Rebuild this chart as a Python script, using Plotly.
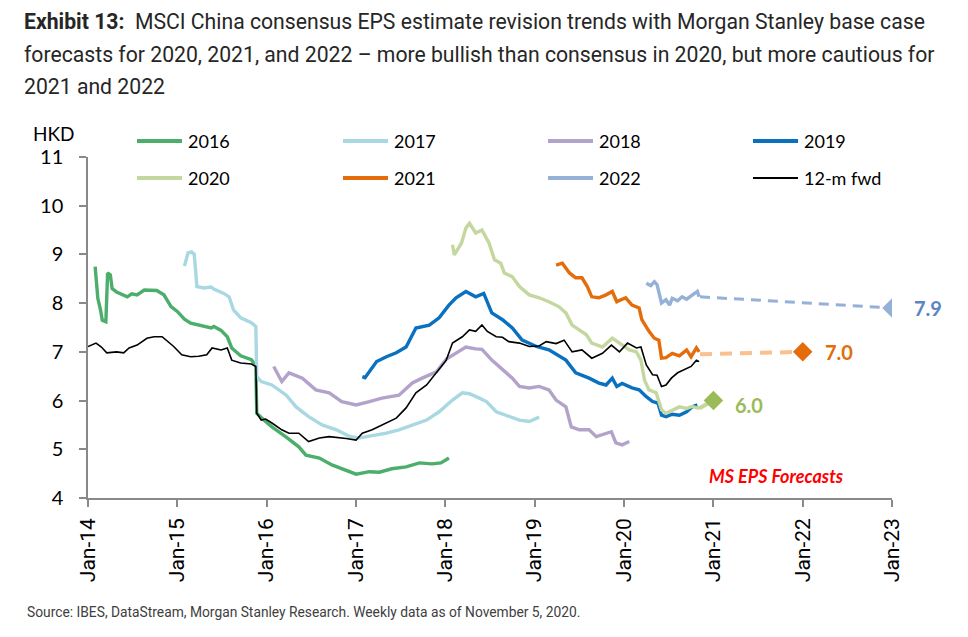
import numpy as np
import pandas as pd
import plotly.graph_objects as go

# ---------------- data (decimal years, HKD EPS) ----------------
t_2016 = [2014.08, 2014.11, 2014.14, 2014.16, 2014.20, 2014.22, 2014.25, 2014.27, 2014.32, 2014.44,
          2014.49, 2014.55, 2014.63, 2014.77, 2014.85, 2014.93, 2015.00, 2015.08, 2015.15, 2015.27,
          2015.38, 2015.41, 2015.49, 2015.56, 2015.61, 2015.71, 2015.83, 2015.88, 2015.89, 2015.97,
          2016.06, 2016.22, 2016.36, 2016.44, 2016.59, 2016.73, 2016.89, 2017.00, 2017.15, 2017.26,
          2017.40, 2017.56, 2017.71, 2017.85, 2017.95, 2018.04]
v_2016 = [8.75, 8.10, 7.86, 7.65, 7.62, 8.62, 8.58, 8.30, 8.23, 8.13,
          8.19, 8.17, 8.27, 8.26, 8.17, 7.93, 7.83, 7.67, 7.59, 7.54,
          7.49, 7.52, 7.44, 7.31, 7.08, 6.92, 6.84, 6.71, 5.74, 5.60,
          5.46, 5.25, 5.05, 4.88, 4.82, 4.68, 4.57, 4.49, 4.54, 4.53,
          4.60, 4.64, 4.72, 4.70, 4.72, 4.82]

t_2017 = [2015.08, 2015.12, 2015.16, 2015.19, 2015.22, 2015.30, 2015.38, 2015.41, 2015.52, 2015.58,
          2015.63, 2015.71, 2015.83, 2015.88, 2015.89, 2015.94, 2016.06, 2016.22, 2016.33, 2016.47,
          2016.62, 2016.78, 2016.92, 2017.03, 2017.15, 2017.34, 2017.48, 2017.63, 2017.79, 2017.93,
          2018.08, 2018.19, 2018.27, 2018.38, 2018.46, 2018.57, 2018.71, 2018.83, 2018.94, 2019.05]
v_2017 = [8.76, 9.03, 9.05, 9.00, 8.34, 8.31, 8.33, 8.29, 8.20, 8.13,
          7.86, 7.70, 7.60, 7.52, 6.49, 6.39, 6.32, 6.11, 5.87, 5.67,
          5.50, 5.40, 5.27, 5.23, 5.27, 5.33, 5.40, 5.50, 5.60, 5.77,
          6.01, 6.16, 6.14, 6.05, 5.98, 5.77, 5.67, 5.60, 5.57, 5.66]

t_2018 = [2016.08, 2016.12, 2016.17, 2016.25, 2016.40, 2016.55, 2016.70, 2016.84, 2017.00, 2017.15,
          2017.29, 2017.48, 2017.63, 2017.74, 2017.90, 2018.01, 2018.15, 2018.23, 2018.34, 2018.41,
          2018.52, 2018.64, 2018.75, 2018.83, 2018.94, 2019.05, 2019.16, 2019.24, 2019.35, 2019.41,
          2019.50, 2019.61, 2019.69, 2019.86, 2019.91, 2019.98, 2020.06]
v_2018 = [6.70, 6.57, 6.39, 6.57, 6.46, 6.22, 6.16, 5.98, 5.91, 5.98,
          6.05, 6.11, 6.36, 6.46, 6.59, 6.85, 7.00, 7.10, 7.06, 7.05,
          6.83, 6.63, 6.46, 6.29, 6.26, 6.29, 6.22, 6.01, 5.87, 5.46,
          5.40, 5.40, 5.26, 5.36, 5.13, 5.09, 5.16]

t_2019 = [2017.07, 2017.10, 2017.23, 2017.34, 2017.45, 2017.56, 2017.67, 2017.82, 2017.93, 2018.04,
          2018.12, 2018.23, 2018.34, 2018.43, 2018.52, 2018.64, 2018.75, 2018.86, 2019.02, 2019.16,
          2019.35, 2019.46, 2019.61, 2019.72, 2019.80, 2019.87, 2019.92, 2019.98, 2020.09, 2020.17,
          2020.25, 2020.32, 2020.38, 2020.42, 2020.47, 2020.54, 2020.62, 2020.70, 2020.76, 2020.82]
v_2019 = [6.49, 6.47, 6.80, 6.90, 6.98, 7.10, 7.49, 7.55, 7.70, 7.96,
          8.11, 8.24, 8.13, 8.20, 7.80, 7.66, 7.49, 7.24, 7.11, 7.04,
          6.83, 6.57, 6.46, 6.36, 6.32, 6.46, 6.29, 6.35, 6.26, 6.22,
          6.08, 5.98, 5.95, 5.70, 5.67, 5.72, 5.70, 5.77, 5.87, 5.91]

t_2020 = [2018.08, 2018.10, 2018.18, 2018.23, 2018.27, 2018.34, 2018.41, 2018.49, 2018.55, 2018.62,
          2018.66, 2018.75, 2018.83, 2018.94, 2019.05, 2019.16, 2019.27, 2019.35, 2019.42, 2019.50,
          2019.58, 2019.64, 2019.76, 2019.87, 2019.95, 2020.06, 2020.14, 2020.19, 2020.23, 2020.28,
          2020.36, 2020.42, 2020.47, 2020.54, 2020.62, 2020.70, 2020.76, 2020.84]
v_2020 = [9.20, 8.99, 9.23, 9.54, 9.64, 9.44, 9.50, 9.23, 8.89, 8.82,
          8.62, 8.54, 8.34, 8.17, 8.11, 8.03, 7.93, 7.80, 7.55, 7.45,
          7.35, 7.18, 7.10, 7.28, 7.18, 7.04, 7.00, 6.83, 6.42, 6.22,
          6.16, 5.81, 5.74, 5.80, 5.87, 5.84, 5.88, 5.84]

t_2021 = [2019.24, 2019.31, 2019.39, 2019.46, 2019.53, 2019.59, 2019.64, 2019.72, 2019.80, 2019.87,
          2019.92, 2020.02, 2020.09, 2020.17, 2020.20, 2020.28, 2020.34, 2020.39, 2020.42, 2020.47,
          2020.54, 2020.62, 2020.70, 2020.75, 2020.81, 2020.84]
v_2021 = [8.78, 8.82, 8.62, 8.52, 8.52, 8.34, 8.13, 8.11, 8.17, 8.24,
          8.03, 8.11, 7.96, 7.90, 7.66, 7.42, 7.28, 7.24, 6.87, 6.88,
          6.97, 6.92, 7.04, 6.90, 7.08, 7.00]

t_2022 = [2020.25, 2020.30, 2020.34, 2020.37, 2020.42, 2020.47, 2020.51, 2020.54, 2020.60, 2020.65,
          2020.70, 2020.79, 2020.82, 2020.84]
v_2022 = [8.41, 8.36, 8.44, 8.38, 8.00, 8.07, 7.96, 8.10, 8.05, 8.13,
          8.08, 8.20, 8.24, 8.13]

t_fwd = [2014.00, 2014.09, 2014.15, 2014.21, 2014.32, 2014.40, 2014.46, 2014.55, 2014.66, 2014.74,
         2014.83, 2014.91, 2014.96, 2015.05, 2015.15, 2015.24, 2015.33, 2015.39, 2015.49, 2015.56,
         2015.61, 2015.71, 2015.83, 2015.88, 2015.89, 2015.94, 2015.99, 2016.06, 2016.17, 2016.25,
         2016.36, 2016.47, 2016.59, 2016.70, 2016.81, 2016.89, 2017.00, 2017.07, 2017.18, 2017.29,
         2017.45, 2017.56, 2017.67, 2017.79, 2017.90, 2018.01, 2018.08, 2018.19, 2018.27, 2018.34,
         2018.41, 2018.47, 2018.57, 2018.64, 2018.71, 2018.83, 2018.94, 2019.05, 2019.13, 2019.24,
         2019.33, 2019.42, 2019.53, 2019.64, 2019.76, 2019.86, 2019.95, 2020.04, 2020.14, 2020.19,
         2020.25, 2020.32, 2020.37, 2020.42, 2020.47, 2020.53, 2020.60, 2020.67, 2020.75, 2020.81,
         2020.84]
v_fwd = [7.11, 7.18, 7.10, 6.98, 7.00, 6.98, 7.08, 7.14, 7.28, 7.31,
         7.31, 7.18, 7.11, 6.94, 6.90, 6.91, 6.94, 7.08, 7.04, 7.08,
         6.83, 6.77, 6.75, 6.70, 5.74, 5.60, 5.62, 5.54, 5.40, 5.33,
         5.33, 5.16, 5.23, 5.26, 5.24, 5.22, 5.19, 5.33, 5.40, 5.50,
         5.64, 5.85, 6.16, 6.32, 6.57, 6.83, 7.18, 7.31, 7.45, 7.42,
         7.55, 7.42, 7.31, 7.30, 7.21, 7.18, 7.11, 7.12, 7.21, 7.17,
         7.24, 7.00, 7.04, 6.87, 6.97, 7.14, 7.00, 7.18, 7.08, 7.10,
         6.73, 6.53, 6.52, 6.29, 6.32, 6.46, 6.57, 6.63, 6.70, 6.83,
         6.80]

# MS base case forecasts
fc_2020_t = [2020.84, 2021.00]
fc_2020_v = [5.84, 6.00]
fc_2021_t = [2020.85, 2022.00]
fc_2021_v = [6.95, 7.00]
fc_2022_t = [2020.85, 2023.00]
fc_2022_v = [8.13, 7.90]

series_names = ["2016", "2017", "2018", "2019", "2020", "2021", "2022", "12-m fwd"]
series_colors = ["#4BAE6B", "#A8D8E2", "#B3A2C9", "#0A70C0", "#C4D79E", "#E46C0A", "#95B1D8", "#000000"]
series_widths = [3.4, 3.4, 3.4, 3.4, 3.4, 3.4, 3.4, 1.6]
series_t = [t_2016, t_2017, t_2018, t_2019, t_2020, t_2021, t_2022, t_fwd]
series_v = [v_2016, v_2017, v_2018, v_2019, v_2020, v_2021, v_2022, v_fwd]

title_lines = [
    "<b>Exhibit 13:</b>  MSCI China consensus EPS estimate revision trends with Morgan Stanley base case",
    "forecasts for 2020, 2021, and 2022 \u2013 more bullish than consensus in 2020, but more cautious for",
    "2021 and 2022",
]
source_text = "Source: IBES, DataStream, Morgan Stanley Research. Weekly data as of November 5, 2020."


def to_dates(ts):
    out = []
    for y in ts:
        yr = int(np.floor(y + 1e-9))
        frac = y - yr
        s = pd.Timestamp(year=yr, month=1, day=1)
        e = pd.Timestamp(year=yr + 1, month=1, day=1)
        out.append(s + (e - s) * frac)
    return out


# ---------------- figure ----------------
W, H = 968, 637
L, R, T, B = 88, 76, 157, 139
PW, PH = W - L - R, H - T - B


def px(x):
    return (x - L) / PW


def py(y):
    return (H - B - y) / PH


fig = go.Figure()

for name, col, wd, ts, vs in zip(series_names, series_colors, series_widths, series_t, series_v):
    fig.add_trace(go.Scatter(x=to_dates(ts), y=vs, mode="lines", name=name,
                             line=dict(color=col, width=wd), showlegend=False))

# forecast connectors
fig.add_trace(go.Scatter(x=to_dates(fc_2022_t), y=fc_2022_v, mode="lines",
                         line=dict(color="#95B1D8", width=3, dash="10px,7px"), showlegend=False))
fig.add_trace(go.Scatter(x=to_dates(fc_2021_t), y=fc_2021_v, mode="lines",
                         line=dict(color="#FAC090", width=4, dash="12px,8px"), showlegend=False))
fig.add_trace(go.Scatter(x=to_dates(fc_2020_t), y=fc_2020_v, mode="lines",
                         line=dict(color="#C4D79E", width=4), showlegend=False))

# diamonds
diamond_cols = ["#9BBB59", "#E46C0A", "#95B1D8"]
label_cols = ["#9BBB59", "#E46C0A", "#5B84C4"]
for fc_t, fc_v, dc, lc in zip([fc_2020_t, fc_2021_t, fc_2022_t], [fc_2020_v, fc_2021_v, fc_2022_v],
                              diamond_cols, label_cols):
    d = to_dates(fc_t[-1:])
    fig.add_trace(go.Scatter(x=d, y=fc_v[-1:], mode="markers",
                             marker=dict(symbol="diamond", size=15, color=dc), showlegend=False))
    fig.add_annotation(x=d[0], y=fc_v[-1], text=f"<b>{fc_v[-1]:.1f}</b>", showarrow=False,
                       xanchor="left", xshift=20, yshift=-4 if fc_t[-1] == 2021.0 else 0,
                       font=dict(family="Lato", size=20, color=lc))

# manual legend (4 columns x 2 rows)
col_x = [137, 343, 548, 753]
row_y = [141, 178]
for i, (name, col, wd) in enumerate(zip(series_names, series_colors, series_widths)):
    cx = col_x[i % 4]
    ry = row_y[i // 4]
    fig.add_shape(type="line", xref="paper", yref="paper",
                  x0=px(cx), x1=px(cx + 45), y0=py(ry), y1=py(ry),
                  line=dict(color=col, width=4 if wd > 2 else 2))
    fig.add_annotation(xref="paper", yref="paper", x=px(cx + 49), y=py(ry), text=name,
                       showarrow=False, xanchor="left", yanchor="middle",
                       font=dict(family="Lato", size=18, color="#000000"))

# titles
for i, line in enumerate(title_lines):
    fig.add_annotation(xref="paper", yref="paper", x=px(22), y=py(22 + 32.5 * i), text=line,
                       showarrow=False, xanchor="left", yanchor="middle",
                       font=dict(family="Roboto", size=21.2, color="#262626"))

fig.add_annotation(xref="paper", yref="paper", x=px(54), y=py(133), text="HKD",
                   showarrow=False, xanchor="center", yanchor="middle",
                   font=dict(family="Lato", size=19, color="#000000"))

fig.add_annotation(xref="paper", yref="paper", x=px(776), y=py(476), text="<b><i>MS EPS Forecasts</i></b>",
                   showarrow=False, xanchor="center", yanchor="middle",
                   font=dict(family="Lato", size=18, color="#FF0000"))

fig.add_annotation(xref="paper", yref="paper", x=px(25), y=py(612), text=source_text,
                   showarrow=False, xanchor="left", yanchor="middle",
                   font=dict(family="Roboto", size=13.8, color="#404040"))

fig.update_layout(
    width=W, height=H,
    margin=dict(l=L, r=R, t=T, b=B, pad=0),
    paper_bgcolor="white", plot_bgcolor="white",
    showlegend=False,
    xaxis=dict(type="date", range=["2014-01-01", "2023-01-01"],
               tick0="2014-01-01", dtick="M12", tickformat="%b-%y", tickangle=-90,
               showgrid=False, zeroline=False, showline=True, linecolor="#898989", linewidth=1.5,
               ticks="outside", ticklen=7, tickcolor="#898989", tickwidth=1.5,
               ticklabelstandoff=3,
               tickfont=dict(family="Roboto", size=21, color="#000000")),
    yaxis=dict(range=[4, 11], dtick=1, tick0=4,
               showgrid=False, zeroline=False, showline=True, linecolor="#898989", linewidth=1.5,
               ticks="outside", ticklen=7, tickcolor="#898989", tickwidth=1.5,
               ticklabelstandoff=12,
               tickfont=dict(family="Lato", size=20, color="#000000")),
)

fig.write_html("out.html")
